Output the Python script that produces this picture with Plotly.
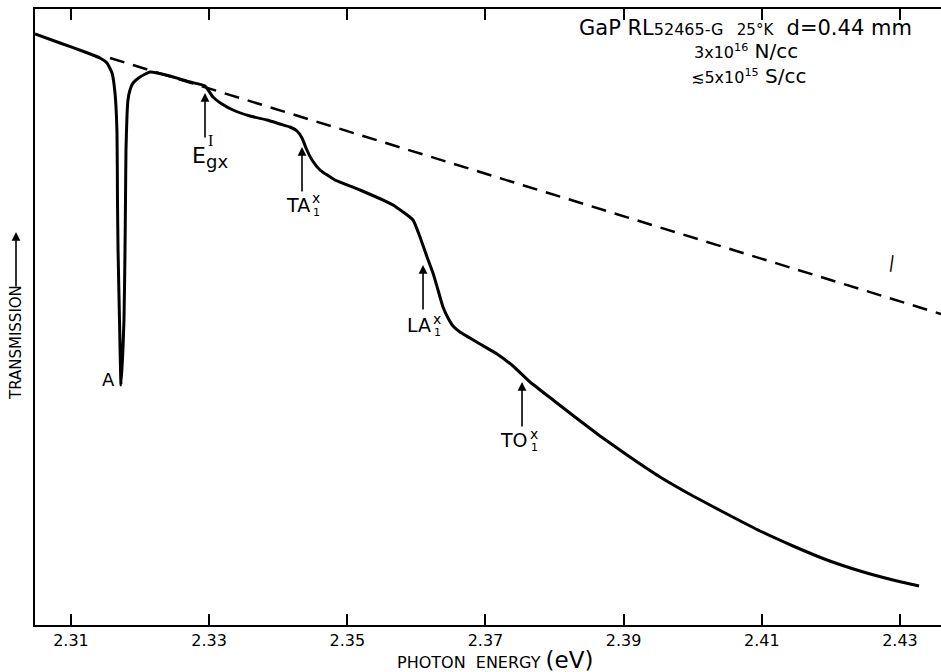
import plotly.graph_objects as go

# ---------------- data ----------------
energy = [2.30479, 2.30841, 2.31203, 2.31420, 2.31521, 2.31594, 2.31637, 2.31666,
          2.31673, 2.31681, 2.31702, 2.31724, 2.31767, 2.31782, 2.31789, 2.31796,
          2.31811, 2.31825, 2.31854, 2.31898, 2.31999, 2.32144, 2.32433, 2.32723,
          2.32940, 2.33056, 2.33186, 2.33345, 2.33591, 2.33837, 2.34026, 2.34170,
          2.34272, 2.34344, 2.34402, 2.34489, 2.34605, 2.34822, 2.35184, 2.35661,
          2.35951, 2.36052, 2.36154, 2.36240, 2.36313, 2.36385, 2.36458, 2.36530,
          2.36631, 2.36921, 2.37167, 2.37398, 2.37645, 2.37978, 2.38296, 2.38658,
          2.39049, 2.39527, 2.40004, 2.40496, 2.40974, 2.41452, 2.41944, 2.42422,
          2.42899, 2.43276]
transmission = [591, 582, 573, 567, 562, 552, 532, 492,
                425, 375, 305, 240, 305, 375, 425, 475,
                510, 525, 535, 542, 548, 553, 549, 543,
                539, 528, 521, 515, 509, 505, 501, 498,
                494, 487, 477, 465, 455, 445, 435, 420,
                405, 388, 368, 352, 335, 318, 307, 299,
                293, 281, 271, 259, 243, 225, 208, 189,
                170, 148, 129, 111, 94, 79, 65, 54,
                45, 39]

baseline_energy = [2.31565, 2.43594]
baseline_transmission = [567, 311]

tick_values = [2.31, 2.33, 2.35, 2.37, 2.39, 2.41, 2.43]
tick_labels = ["2.31", "2.33", "2.35", "2.37", "2.39", "2.41", "2.43"]

feature_energy = [2.32940, 2.34344, 2.36096, 2.37529]
feature_tip = [532, 478, 360, 243]
dip_energy = 2.31724
dip_value = 240
curve_mark_energy = 2.42885
curve_mark_value = 363

FONT = "DejaVu Sans"

fig = go.Figure()
fig.add_trace(go.Scatter(x=baseline_energy, y=baseline_transmission, mode="lines",
                         line=dict(color="black", width=2.5, dash="15px,9px"),
                         hoverinfo="skip", showlegend=False))
fig.add_trace(go.Scatter(x=energy, y=transmission, mode="lines",
                         line=dict(color="black", width=3, shape="spline", smoothing=0.4),
                         showlegend=False))

ann = []

def txt(x, y, text, dx, dy, size, family=FONT, xref="x", yref="y", angle=0):
    ann.append(dict(x=x, y=y, xref=xref, yref=yref, text=text, showarrow=False,
                    xshift=dx, yshift=-dy, font=dict(family=family, size=size, color="black"),
                    xanchor="center", yanchor="middle", textangle=angle))

# arrows
for e, t in zip(feature_energy, feature_tip):
    ann.append(dict(x=e, y=t, xref="x", yref="y", ax=0, ay=46, axref="pixel", ayref="pixel",
                    text="", showarrow=True, arrowhead=2, arrowsize=1.1, arrowwidth=1.6,
                    arrowcolor="black"))

# E_gx^I
e0, t0 = feature_energy[0], feature_tip[0]
txt(e0, t0, "E", -6, 62, 22)
txt(e0, t0, "I", 5, 47, 16, family="Liberation Serif")
txt(e0, t0, "gx", 12, 68, 18)
# TA_1^x
e1, t1 = feature_energy[1], feature_tip[1]
txt(e1, t1, "TA", -4, 58, 19)
txt(e1, t1, "x", 14, 51, 14)
txt(e1, t1, "1", 14, 65, 11)
# LA_1^x
e2, t2 = feature_energy[2], feature_tip[2]
txt(e2, t2, "LA", -4, 60, 19)
txt(e2, t2, "x", 14, 54, 14)
txt(e2, t2, "1", 14, 67, 11)
# TO_1^x
e3, t3 = feature_energy[3], feature_tip[3]
txt(e3, t3, "TO", -8, 58, 19)
txt(e3, t3, "x", 12, 52, 14)
txt(e3, t3, "1", 12, 65, 11)
# A
txt(dip_energy, dip_value, "A", -13, -6, 18)

# curve mark near dashed line
txt(curve_mark_energy, curve_mark_value, "|", 0, 0, 17, angle=8)

# header text (paper coordinates)
W, H = 941, 672
L, R, T, B = 35, 0, 9, 47
pw, ph = W - L - R, H - T - B

def ptxt(px, py, text, size, angle=0, xanchor="center"):
    ann.append(dict(x=(px - L) / pw, y=(H - B - py) / ph, xref="paper", yref="paper",
                    text=text, showarrow=False, textangle=angle,
                    font=dict(family=FONT, size=size, color="black"),
                    xanchor=xanchor, yanchor="middle"))

ptxt(745, 28, "GaP RL<span style='font-size:16px'>52465-G</span>  "
              "<span style='font-size:15px'>25°K</span>  d=0.44 mm", 21)
ptxt(746, 51, "<span style='font-size:16px'>3x10<sup>16</sup></span> N/cc", 20)
ptxt(748, 76, "<span style='font-size:16px'>≲5x10<sup>15</sup></span> S/cc", 20)

ptxt(495, 660, "PHOTON  ENERGY <span style='font-size:23px'>(eV)</span>", 16)
ptxt(16, 343, "TRANSMISSION", 15, angle=-90)
# axis-title arrow
ann.append(dict(x=(16 - L) / pw, y=(H - B - 232) / ph, xref="paper", yref="paper",
                ax=0, ay=56, axref="pixel", ayref="pixel", text="", showarrow=True,
                arrowhead=2, arrowsize=1.1, arrowwidth=1.6, arrowcolor="black"))

fig.update_layout(
    width=W, height=H,
    margin=dict(l=L, r=R, t=T, b=B, autoexpand=False),
    paper_bgcolor="white", plot_bgcolor="white",
    annotations=ann,
    xaxis=dict(range=[2.30479, 2.43594], tickvals=tick_values, ticktext=tick_labels,
               ticks="inside", ticklen=11, tickwidth=1.5, tickcolor="black",
               showline=True, linewidth=2, linecolor="black", mirror="ticks",
               showgrid=False, zeroline=False, automargin=False,
               tickfont=dict(family=FONT, size=16, color="black")),
    yaxis=dict(range=[0, 616], showticklabels=False, ticks="",
               showline=True, linewidth=2, linecolor="black", mirror=False,
               showgrid=False, zeroline=False, automargin=False),
)

fig.write_html("out.html", config={"displayModeBar": False},
               post_script="document.body.style.margin='0px';")
